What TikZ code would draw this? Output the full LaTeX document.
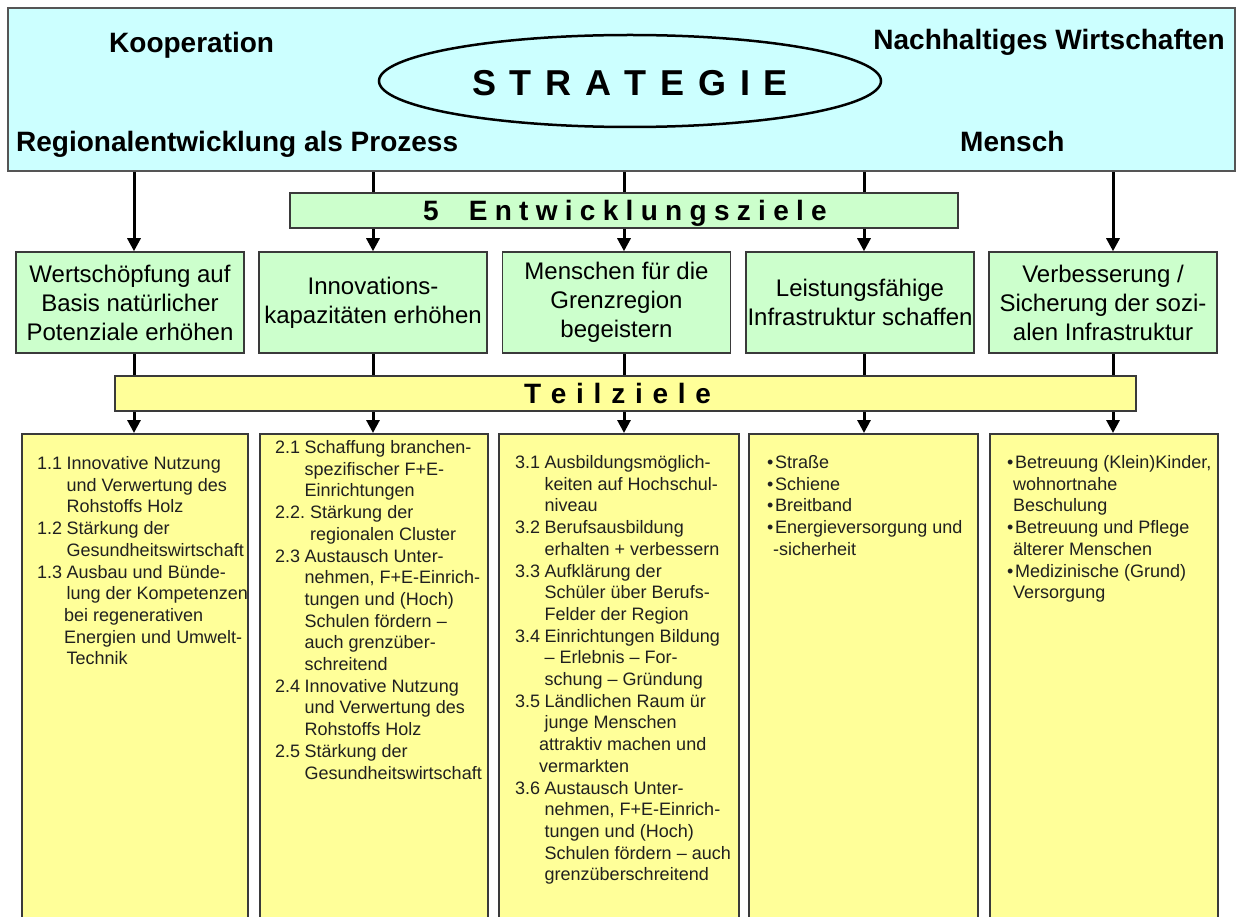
\documentclass[tikz,border=0pt]{standalone}
\usepackage{fontspec}
\setmainfont{Liberation Sans}
\usetikzlibrary{arrows.meta,shapes.geometric}
\definecolor{cyanfill}{HTML}{CCFFFF}
\definecolor{greenfill}{HTML}{CCFFCC}
\definecolor{yellowfill}{HTML}{FFFF99}
\definecolor{edgecol}{HTML}{3A3A3A}
\definecolor{topedge}{HTML}{555555}
\definecolor{coltxt}{HTML}{202020}
\newcommand\nb[1]{\makebox[29.5pt][l]{#1}}
\newcommand\ind{\hspace*{29.5pt}}
\newcommand\bul{\makebox[8pt][l]{•}}
\makeatletter
\newcommand\spreadout[2]{\def\sp@gap{#1}\let\sp@first\relax\@tfor\sp@c:=#2\do{\sp@first\sp@c\def\sp@first{\kern\sp@gap}}}
\makeatother
\begin{document}
\begin{tikzpicture}[x=1pt,y=-1pt,
  box/.style={draw=edgecol, line width=1.5pt, inner sep=0pt},
  goalbox/.style={box, fill=greenfill, minimum width=228pt, minimum height=101pt, align=center, font=\fontsize{24}{29}\selectfont},
  colbox/.style={box, fill=yellowfill, anchor=north west, minimum height=520pt},
  coltext/.style={anchor=base west, inner sep=0pt, text=coltxt, font=\fontsize{18}{21.7}\selectfont},
  conn/.style={line width=3pt, -{Triangle[width=13pt,length=13pt]}},
  head/.style={font=\bfseries\fontsize{28}{32}\selectfont, inner sep=0pt},
  bartext/.style={font=\bfseries\fontsize{28}{32}\selectfont, inner sep=0pt, text height=20pt, text depth=0pt},
]
\useasboundingbox (0,0) rectangle (1236,917);
\clip (0,0) rectangle (1236,917);

% top strategy box
\node[draw=topedge, line width=2pt, fill=cyanfill, minimum width=1227.5pt, minimum height=163pt, inner sep=0pt] (top) at (621.25,89.5) {};
\node[draw=black, ellipse, line width=2.5pt, minimum width=502pt, minimum height=92pt, inner sep=0pt] (ell) at (630,81) {};
\node[font=\bfseries\fontsize{36}{40}\selectfont, inner sep=0pt, text height=26pt, text depth=0pt] (strat) at (630,83) {\spreadout{13.7pt}{STRATEGIE}};
\node[head, anchor=base west] (koop) at (109,53) {Kooperation};
\node[head, anchor=base east] (nach) at (1225,50) {Nachhaltiges Wirtschaften};
\node[head, anchor=base west] (regio) at (16,152) {Regionalentwicklung als Prozess};
\node[head, anchor=base west] (mensch) at (960,152) {Mensch};

% goal boxes
\node[goalbox] (g1) at (130,302.5) {Wertschöpfung auf\\Basis natürlicher\\Potenziale erhöhen};
\node[goalbox] (g2) at (373,302.5) {Innovations-\\kapazitäten erhöhen};
\node[goalbox] (g3) at (616.5,302.5) {Menschen für die\\Grenzregion\\begeistern};
\node[goalbox] (g4) at (860,302.5) {Leistungsfähige\\Infrastruktur schaffen};
\node[goalbox] (g5) at (1103,302.5) {Verbesserung /\\Sicherung der sozi-\\alen Infrastruktur};

% sub-goal columns
\node[colbox, minimum width=226pt] (c1) at (21,433) {};
\node[colbox, minimum width=228pt] (c2) at (259,433) {};
\node[colbox, minimum width=240pt] (c3) at (498,433) {};
\node[colbox, minimum width=229pt] (c4) at (748,433) {};
\node[colbox, minimum width=228pt] (c5) at (989,433) {};

% arrow columns
\coordinate (x1) at (134,0);
\coordinate (x2) at (373,0);
\coordinate (x3) at (624,0);
\coordinate (x4) at (864,0);
\coordinate (x5) at (1113,0);
\foreach \i in {1,...,5}{
  \draw[conn] (top.south -| x\i) -- (g\i.north -| x\i);
  \draw[conn] (g\i.south -| x\i) -- (c\i.north -| x\i);
}

% bars
\node[box, fill=greenfill, minimum width=668pt, minimum height=35pt] (ent) at (624,210.5) {};
\node[bartext] (enttxt) at (625,210.5) {\spreadout{7.3pt}{5}\hspace{30pt}\spreadout{7.3pt}{Entwicklungsziele}};
\node[box, fill=yellowfill, minimum width=1021pt, minimum height=35pt] (teil) at (625.5,393.5) {};
\node[bartext] (teiltxt) at (617.5,393.5) {\spreadout{9.75pt}{Teilziele}};

% column texts
\node[coltext] (t1) at (37,469.5) {\begin{tabular}[t]{@{}l@{}}
\nb{1.1}Innovative Nutzung\\
\ind und Verwertung des\\
\ind Rohstoffs Holz\\
\nb{1.2}Stärkung der\\
\ind Gesundheitswirtschaft\\
\nb{1.3}Ausbau und Bünde-\\
\ind lung der Kompetenzen\\
\hspace*{27pt}bei regenerativen\\
\hspace*{27pt}Energien und Umwelt-\\
\ind Technik
\end{tabular}};

\node[coltext] (t2) at (275,453.5) {\begin{tabular}[t]{@{}l@{}}
\nb{2.1}Schaffung branchen-\\
\ind spezifischer F+E-\\
\ind Einrichtungen\\
2.2.\hspace*{5pt}Stärkung der\\
\hspace*{35pt}regionalen Cluster\\
\nb{2.3}Austausch Unter-\\
\ind nehmen, F+E-Einrich-\\
\ind tungen und (Hoch)\\
\ind Schulen fördern –\\
\ind auch grenzüber-\\
\ind schreitend\\
\nb{2.4}Innovative Nutzung\\
\ind und Verwertung des\\
\ind Rohstoffs Holz\\
\nb{2.5}Stärkung der\\
\ind Gesundheitswirtschaft
\end{tabular}};

\node[coltext] (t3) at (515,468.5) {\begin{tabular}[t]{@{}l@{}}
\nb{3.1}Ausbildungsmöglich-\\
\ind keiten auf Hochschul-\\
\ind niveau\\
\nb{3.2}Berufsausbildung\\
\ind erhalten + verbessern\\
\nb{3.3}Aufklärung der\\
\ind Schüler über Berufs-\\
\ind Felder der Region\\
\nb{3.4}Einrichtungen Bildung\\
\ind – Erlebnis – For-\\
\ind schung – Gründung\\
\nb{3.5}Ländlichen Raum ür\\
\ind junge Menschen\\
\hspace*{24pt}attraktiv machen und\\
\hspace*{24pt}vermarkten\\
\nb{3.6}Austausch Unter-\\
\ind nehmen, F+E-Einrich-\\
\ind tungen und (Hoch)\\
\ind Schulen fördern – auch\\
\ind grenzüberschreitend
\end{tabular}};

\node[coltext] (t4) at (767,468.5) {\begin{tabular}[t]{@{}l@{}}
\bul Straße\\
\bul Schiene\\
\bul Breitband\\
\bul Energieversorgung und\\
\hspace*{6pt}-sicherheit
\end{tabular}};

\node[coltext] (t5) at (1007,468.5) {\begin{tabular}[t]{@{}l@{}}
\bul Betreuung (Klein)Kinder,\\
\hspace*{6pt}wohnortnahe\\
\hspace*{6pt}Beschulung\\
\bul Betreuung und Pflege\\
\hspace*{6pt}älterer Menschen\\
\bul Medizinische (Grund)\\
\hspace*{6pt}Versorgung
\end{tabular}};
\end{tikzpicture}
\end{document}
